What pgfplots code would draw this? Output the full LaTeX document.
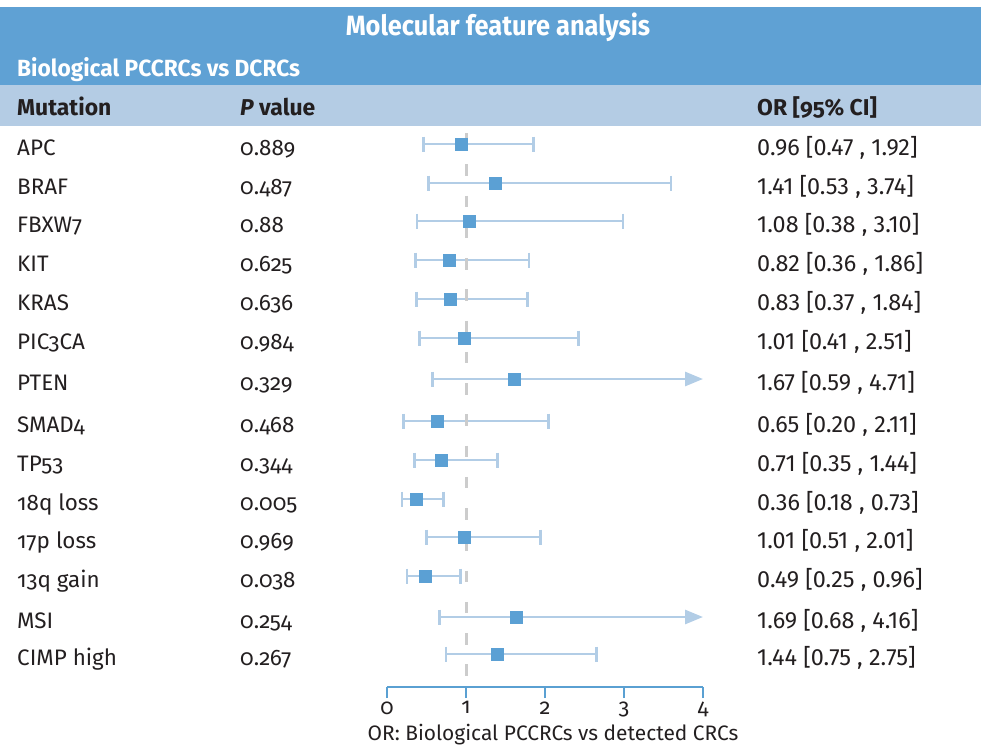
\documentclass[border=0pt]{standalone}
\usepackage{pgfplots}
\pgfplotsset{compat=1.18}
\usetikzlibrary{arrows.meta}
\usepackage{fontspec}
\setmainfont{Fira Sans}[Numbers=OldStyle]
\newfontfamily\linfont{Fira Sans}[Numbers=Lining]
\newfontfamily\condfont{Fira Sans}[FakeStretch=0.91,Numbers=OldStyle]
\newfontfamily\condfontb{Fira Sans}[FakeStretch=0.97,Numbers=OldStyle]
\definecolor{darkband}{RGB}{95,161,212}
\definecolor{lightband}{RGB}{180,204,228}
\definecolor{markblue}{RGB}{91,160,212}
\definecolor{ciblue}{RGB}{178,205,230}
\definecolor{dashgray}{RGB}{204,204,204}
\definecolor{axisblue}{RGB}{90,160,210}
\definecolor{textcol}{RGB}{35,31,32}
\begin{document}
\begin{tikzpicture}[x=1bp,y=1bp,text=textcol]
\fill[darkband] (0,-7) rectangle (981,-85);
\fill[lightband] (0,-85) rectangle (981,-126);
\node[white,inner sep=0,anchor=base,font=\condfont\bfseries\fontsize{28}{32}\selectfont] at (498,-36) {Molecular feature analysis};
\node[white,inner sep=0,anchor=base west,font=\condfontb\bfseries\fontsize{23.5}{27}\selectfont] at (17,-77) {Biological PCCRCs vs DCRCs};
\node[inner sep=0,anchor=base west,font=\bfseries\fontsize{23}{27}\selectfont] at (17,-115) {Mutation};
\node[inner sep=0,anchor=base west,font=\bfseries\fontsize{23}{27}\selectfont] at (240,-115) {\itshape P\upshape\ value};
\node[inner sep=0,anchor=base west,font=\bfseries\fontsize{23}{27}\selectfont] at (757,-115) {OR [95\% CI]};
\foreach \y/\name/\p/\ort in {
 144/APC/0.889/{0.96 [0.47 , 1.92]},
 183/BRAF/0.487/{1.41 [0.53 , 3.74]},
 221/FBXW7/0.88/{1.08 [0.38 , 3.10]},
 260/KIT/0.625/{0.82 [0.36 , 1.86]},
 299/KRAS/0.636/{0.83 [0.37 , 1.84]},
 338/PIC3CA/0.984/{1.01 [0.41 , 2.51]},
 379/PTEN/0.329/{1.67 [0.59 , 4.71]},
 421/SMAD4/0.468/{0.65 [0.20 , 2.11]},
 460/TP53/0.344/{0.71 [0.35 , 1.44]},
 499/18q loss/0.005/{0.36 [0.18 , 0.73]},
 537/17p loss/0.969/{1.01 [0.51 , 2.01]},
 576/13q gain/0.038/{0.49 [0.25 , 0.96]},
 617/MSI/0.254/{1.69 [0.68 , 4.16]},
 654/CIMP high/0.267/{1.44 [0.75 , 2.75]}} {
 \node[inner sep=0,anchor=base west,font=\fontsize{22.5}{26}\selectfont] at (17,{-\y-11}) {\name};
 \node[inner sep=0,anchor=base west,font=\fontsize{22.5}{26}\selectfont] at (240,{-\y-11}) {\p};
 \node[inner sep=0,anchor=base west,font=\linfont\fontsize{23.5}{27}\selectfont] at (757,{-\y-11}) {\ort};
}
\begin{axis}[
 at={(387bp,-687bp)}, anchor=south west, scale only axis,
 width=316bp, height=559bp,
 xmin=0, xmax=4, ymin=-687, ymax=-128, clip=false,
 axis x line*=bottom, axis y line=none,
 x axis line style={line width=2.5bp, axisblue, -},
 xtick={0,1,2,3,4}, ytick=\empty,
 tick align=outside, major tick length=11bp,
 tick style={line width=2.5bp, axisblue},
 xticklabel style={font=\fontsize{22}{26}\selectfont, text=textcol},
 /pgf/number format/assume math mode=true,
 ci/.style={ciblue, line width=2.8bp, mark=|, mark size=7.5bp, mark options={solid, line width=2.8bp}},
 cia/.style={ci, mark indices={1}, -{Triangle[length=18bp,width=14bp]}},
]
\addplot[ci] coordinates {(0.464,-144) (1.857,-144)};
\addplot[ci] coordinates {(0.523,-183) (3.595,-183)};
\addplot[ci] coordinates {(0.380,-221) (2.987,-221)};
\addplot[ci] coordinates {(0.359,-260) (1.797,-260)};
\addplot[ci] coordinates {(0.371,-299) (1.780,-299)};
\addplot[ci] coordinates {(0.409,-338) (2.420,-338)};
\addplot[cia] coordinates {(0.578,-379) (4.000,-379)};
\addplot[ci] coordinates {(0.207,-421) (2.040,-421)};
\addplot[ci] coordinates {(0.350,-460) (1.397,-460)};
\addplot[ci] coordinates {(0.190,-499) (0.713,-499)};
\addplot[ci] coordinates {(0.502,-537) (1.945,-537)};
\addplot[ci] coordinates {(0.253,-576) (0.933,-576)};
\addplot[cia] coordinates {(0.662,-617) (4.000,-617)};
\addplot[ci] coordinates {(0.747,-654) (2.654,-654)};
\addplot[dashgray, line width=3bp, dash pattern=on 11.5bp off 19.75bp] coordinates {(1,-133) (1,-687)};
\addplot[only marks, mark=square*, mark size=6bp, markblue, mark options={line width=0pt}] coordinates {
(0.937,-144) (1.367,-183) (1.050,-221) (0.797,-260) (0.810,-299) (0.987,-338) (1.620,-379)
(0.633,-421) (0.696,-460) (0.367,-499) (0.987,-537) (0.481,-576) (1.633,-617) (1.400,-654)};
\end{axis}
\node[inner sep=0,anchor=base,font=\fontsize{21}{25}\selectfont] at (553,-740) {OR: Biological PCCRCs vs detected CRCs};
\pgfresetboundingbox
\useasboundingbox (0,0) rectangle (981,-751);
\end{tikzpicture}
\end{document}
